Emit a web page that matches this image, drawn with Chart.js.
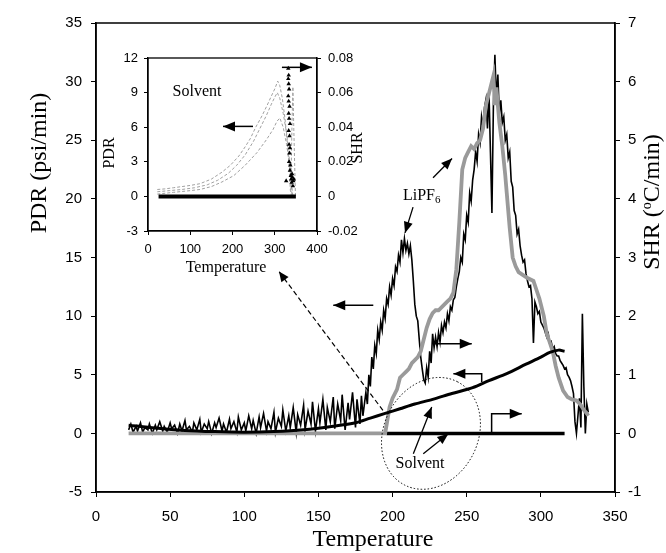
<!DOCTYPE html>
<html>
<head>
<meta charset="utf-8">
<script src="https://cdn.jsdelivr.net/npm/chart.js@4.4.1/dist/chart.umd.min.js"></script>
<style>
  html, body { margin: 0; padding: 0; background: #fff; }
  #wrap { position: relative; width: 666px; height: 553px; }
  #mainChart { position: absolute; left: 0; top: 0; }
  #insetChart { position: absolute; left: 90px; top: 40px; }
</style>
</head>
<body>
<div id="wrap">
  <canvas id="mainChart" width="666" height="553"></canvas>
  <canvas id="insetChart" width="300" height="240"></canvas>
</div>
<script>
// tick labels
const xTicks = [0, 50, 100, 150, 200, 250, 300, 350];
const pdrTicks = [-5, 0, 5, 10, 15, 20, 25, 30, 35];
const shrTicks = [-1, 0, 1, 2, 3, 4, 5, 6, 7];
const insetXTicks = [0, 100, 200, 300, 400];
const insetPdrTicks = [-3, 0, 3, 6, 9, 12];
const insetShrTicks = [-0.02, 0, 0.02, 0.04, 0.06, 0.08];

// LiPF6 pressure rise rate (psi/min) vs temperature
const lipf6Pdr = [
  [22,0.3],[23.5,0.8],[25,0.1],[27,0.6],[28,0.2],[30,0.9],[31.5,0.1],[33,0.5],[35,0.3],[36,0.8],
  [38,0],[40,0.7],[41,0.3],[43,1.0],[45,0.2],[46,0.6],[48,0.1],[50,0.9],[51,0.4],[53,0.7],
  [55,0],[56.5,0.8],[58,0.2],[60,1.1],[61,0.3],[63,0.6],[65,0.1],[66,0.9],[68,0.3],[70,1.2],
  [71,0.1],[73,0.8],[75,0.4],[76,1.0],[78,0],[80,0.9],[81,0.5],[83,1.3],[85,0.2],[86,0.8],
  [88,0.1],[90,1.2],[91,0.4],[93,1.0],[95,0.1],[96,1.4],[98,0.3],[100,0.9],[101,0.2],[103,1.5],
  [105,0.4],[106,1.1],[108,0],[110,1.4],[111,0.5],[113,1.7],[115,0.2],[116,1.0],[118,0.4],[120,1.8],
  [121,0.1],[123,1.3],[125,0.6],[126,2.0],[128,0.2],[130,1.5],[131,0.5],[133,2.2],[135,0.1],[136,1.6],
  [138,0.7],[140,2.4],[141,0.3],[143,1.9],[145,0.8],[146,2.7],[148,0.2],[150,2.1],[151,0.9],[153,2.9],
  [155,0.3],[156,2.2],[158,1.0],[160,3.1],[161,0.4],[163,2.5],[165,1.1],[166,3.3],[168,0.3],[170,2.6],
  [171,1.2],[173,3.5],[175,0.5],[176,2.9],[178,0.8],[179,3.2],[180,1.5],
  [182,3.5],[183,2.5],[184,5],[185,4],[186,6.5],[187,5.5],[188,7.5],[189,6.8],[190,8.8],
  [191,8],[192,9.5],[193,8.8],[194,10.5],[195,9.8],[196,11.5],[197,11],[198,12.5],[199,11.8],[200,13.2],
  [201,12.6],[202,14.2],[203,13.8],[204,15.2],[205,14.6],[206,16.5],[207,15.4],[208,16.6],[209,15.6],[210,16.2],
  [211,15.3],[212,16],[213,14.8],[214,13],[215,11],[216,10],[217,9.6],[218,8],[219,6.5],[220,5.5],
  [221,4.6],[222,4.3],[223,5.6],[224,4.8],[225,7],[226,6],[227,8.5],[228,7.3],[229,8.2],[230,7.4],
  [231,8.6],[232,7.8],[233,9.2],[234,8.6],[235,9.5],[236,9],[237,10.2],[238,9.6],[239,10.8],[240,10.5],
  [241,11.4],[242,11.6],[243,12.5],[244,13.2],[245,13.8],[246,15],[247,14.6],[248,17],[249,16.5],[250,18.6],
  [251,18],[252,20.5],[253,19.8],[254,21.6],[255,22.5],[256,24],[257,23.2],[258,25.5],[259,24.8],[260,27],
  [261,26.2],[262,27.8],[263,28.5],[264,26],[265,29.2],[266,24],[267,18.8],[268,28],[269,32.3],[270,28.5],
  [271,30.6],[272,27.2],[273,28.4],[274,26.5],[275,27],[276,25],[277,25.5],[278,23.5],[279,24],[280,21.5],
  [281,21],[282,19],[283,18.6],[284,17],[285,17.4],[286,16],[287,15.2],[288,14.6],[289,14.8],[290,13.6],
  [291,13],[292,12.5],[293,12.6],[294,11.5],[295,7.7],[296,11.2],[297,10.8],[298,10.2],[299,10.4],[300,9.5],
  [302,9],[303,8.6],[304,8.2],[305,8.5],[306,7.6],[307,7.8],[308,7.2],[309,7.4],[310,6.8],[311,6.6],
  [312,6.6],[313,6.2],[314,6],[315,5.8],[316,5.5],[317,5.6],[318,5],[319,4.8],[320,4.5],[321,4],
  [322,3.4],[323,1],[324,0],[325,1.5],[326,3],[327,0.5],[328,10.2],[329,4],[330,0],[331,2.5],[332,1.8]
];

// LiPF6 self-heating rate (oC/min)
const lipf6Shr = [
  [22,0],[100,0],[195,0],[196,0.15],[198,0.45],[200,0.6],[203,0.75],[205,0.95],[207,1.0],[209,1.05],
  [211,1.1],[213,1.2],[215,1.25],[217,1.3],[219,1.4],[221,1.6],[223,1.8],[225,1.95],[227,2.05],[229,2.1],
  [231,2.1],[233,2.15],[235,2.2],[237,2.25],[239,2.3],[241,2.4],[243,2.8],[245,3.6],[247,4.5],[249,4.7],
  [251,4.8],[253,4.9],[255,4.85],[257,4.95],[259,5.0],[261,5.2],[263,5.6],[265,5.8],[267,6.0],[268,6.1],
  [269,5.6],[270,5.9],[272,5.3],[274,4.9],[276,4.4],[277,4.1],[279,3.5],[281,3.0],[283,2.85],[285,2.75],
  [288,2.7],[291,2.65],[295,2.6],[297,2.45],[299,2.3],[302,2.0],[304,1.7],[306,1.55],[308,1.4],[310,1.15],
  [312,0.95],[315,0.73],[318,0.62],[321,0.58],[324,0.56],[327,0.48],[329,0.4],[331,0.34],[332,0.3]
];

// solvent only
const solventPdr = [
  [22,0.7],[40,0.45],[60,0.25],[80,0.15],[100,0.1],[120,0.15],[140,0.3],[160,0.6],[175,0.9],[185,1.3],
  [195,1.7],[205,2.1],[215,2.5],[227,2.9],[240,3.4],[254,3.9],[265,4.5],[277,5.1],[290,5.9],[300,6.5],
  [306,6.9],[312,7.1],[316,7.0]
];
const solventShr = [[196,0],[316,0]];

// inset: solvent PDR (three dashed traces) and SHR
const insetPdrHi = [
  [22,0.6],[40,0.65],[60,0.75],[80,0.85],[100,0.95],[123,1.1],[150,1.5],[175,2.1],[195,2.7],[215,3.5],
  [230,4.3],[242,5.0],[255,6.0],[270,7.0],[282,7.9],[292,8.7],[301,9.4],[307,10.0],[312,9.6],[318,8.5],
  [325,6.5],[330,4.5],[334,2.5],[337,0.5],[340,0]
];
const insetPdrMid = [
  [22,0.4],[50,0.5],[80,0.6],[110,0.75],[140,1.0],[165,1.4],[190,2.0],[210,2.7],[230,3.6],[250,4.8],
  [265,5.9],[280,7.0],[292,8.0],[300,8.6],[306,9.0],[312,8.5],[320,7.2],[328,5.5],[334,3.5],[338,1.5],[341,0]
];
const insetPdrLo = [
  [22,0.2],[60,0.35],[100,0.5],[123,0.6],[150,0.85],[175,1.25],[203,1.8],[230,2.7],[258,3.8],[280,4.9],
  [296,5.8],[305,6.5],[312,6.8],[320,6.0],[328,4.5],[335,2.8],[340,1.0],[343,0]
];
const insetPdrSpike = [[338,0.5],[341,6.5],[343,9.5],[345,6],[347,3],[349,0]];
const insetShrBase = [[25,0],[350,0]];
const insetShrSpike = [
  [327,0.009],[332,0.074],[333,0.07],[332,0.068],[333,0.065],[334,0.062],[332,0.058],[333,0.055],
  [335,0.052],[333,0.048],[334,0.045],[336,0.042],[333,0.038],[335,0.035],[334,0.03],[336,0.028],
  [335,0.025],[334,0.02],[337,0.018],[336,0.015],[338,0.012],[339,0.01],[340,0.008],[342,0.011],
  [341,0.013],[344,0.009],[345,0.01],[343,0.006]
];

const xy = arr => arr.map(([x, y]) => ({ x, y }));
const setTicks = list => scale => { scale.ticks = list.map(v => ({ value: v })); };

Chart.defaults.font.family = "'Liberation Sans', Arial, sans-serif";
Chart.defaults.color = '#000';

function arrowHead(ctx, from, to, head, half) {
  const [x1, y1] = from, [x2, y2] = to;
  const a = Math.atan2(y2 - y1, x2 - x1), c = Math.cos(a), s = Math.sin(a);
  ctx.beginPath();
  ctx.moveTo(x2, y2);
  ctx.lineTo(x2 - head * c + half * s, y2 - head * s - half * c);
  ctx.lineTo(x2 - head * c - half * s, y2 - head * s + half * c);
  ctx.closePath();
  ctx.fill();
}

function arrow(ctx, pts, head, half) {
  ctx.beginPath();
  ctx.moveTo(pts[0][0], pts[0][1]);
  for (let i = 1; i < pts.length; i++) ctx.lineTo(pts[i][0], pts[i][1]);
  ctx.stroke();
  arrowHead(ctx, pts[pts.length - 2], pts[pts.length - 1], head, half);
}

// annotation spots, in data units (temperature, PDR)
const notes = {
  pdrArrow: [[187, 10.92], [160, 10.92]],
  shrArrow: [[227.5, 7.65], [253.4, 7.65]],
  elbowLeft: [[260.1, 4.38], [260.1, 5.09], [241, 5.09]],
  elbowRight: [[266.8, 0.11], [266.8, 1.68], [287.1, 1.68]],
  solvToPdr: [[214, -1.73], [226.4, 2.24]],
  solvToShr: [[220.7, -1.73], [237.6, -0.03]],
  lipfDown: [[213.8, 19.3], [208.4, 17.1]],
  lipfUp: [[227.3, 21.8], [240.1, 23.45]],
  dashed: [[193.5, 1.96], [123.4, 13.8]],
  ellipse: [225.9, 0],
  solventText: [218.5, -2.56],
  lipfText: [220.5, 20.3]
};

const mainDecor = {
  id: 'mainDecor',
  afterDatasetsDraw(chart) {
    const { ctx, chartArea: a, scales } = chart;
    const P = ([t, v]) => [scales.x.getPixelForValue(t), scales.y.getPixelForValue(v)];
    ctx.save();
    ctx.strokeStyle = '#000';
    ctx.fillStyle = '#000';
    ctx.lineWidth = 1.5;
    ctx.strokeRect(a.left, a.top, a.right - a.left, a.bottom - a.top);

    ['pdrArrow', 'shrArrow', 'elbowLeft', 'elbowRight'].forEach(k => arrow(ctx, notes[k].map(P), 12, 5));
    ctx.lineWidth = 1.3;
    ['solvToPdr', 'solvToShr', 'lipfDown', 'lipfUp'].forEach(k => arrow(ctx, notes[k].map(P), 11, 4.5));

    // dashed pointer from inset
    const d = notes.dashed.map(P);
    ctx.setLineDash([5, 3]);
    ctx.lineWidth = 1.2;
    ctx.beginPath(); ctx.moveTo(d[0][0], d[0][1]); ctx.lineTo(d[1][0], d[1][1]); ctx.stroke();
    ctx.setLineDash([]);
    arrowHead(ctx, d[0], d[1], 10, 4.5);

    // dotted ellipse
    const [ex, ey] = P(notes.ellipse);
    ctx.setLineDash([1.5, 2]);
    ctx.lineWidth = 1;
    ctx.beginPath();
    ctx.ellipse(ex, ey, 58, 47, -1.1, 0, Math.PI * 2);
    ctx.stroke();
    ctx.setLineDash([]);

    ctx.font = "16px 'Liberation Serif', 'Times New Roman', serif";
    ctx.textAlign = 'center';
    ctx.textBaseline = 'middle';
    const [sx, sy] = P(notes.solventText);
    ctx.fillText('Solvent', sx, sy);

    const [lx, ly] = P(notes.lipfText);
    ctx.textAlign = 'left';
    const w1 = ctx.measureText('LiPF').width;
    ctx.fillText('LiPF', lx - 20, ly);
    ctx.font = "11px 'Liberation Serif', 'Times New Roman', serif";
    ctx.fillText('6', lx - 20 + w1, ly + 5);
    ctx.restore();
  },
  afterDraw(chart) {
    const { ctx } = chart;
    ctx.save();
    ctx.fillStyle = '#000';
    ctx.textBaseline = 'middle';
    const big = "24px 'Liberation Serif', 'Times New Roman', serif";
    ctx.font = big;
    ctx.textAlign = 'center';
    ctx.fillText('Temperature', 373, 540);

    ctx.save();
    ctx.translate(40, 163);
    ctx.rotate(-Math.PI / 2);
    ctx.fillText('PDR (psi/min)', 0, 0);
    ctx.restore();

    ctx.save();
    ctx.translate(653, 202);
    ctx.rotate(-Math.PI / 2);
    ctx.textAlign = 'left';
    const small = "14px 'Liberation Serif', 'Times New Roman', serif";
    ctx.font = big; const wa = ctx.measureText('SHR (').width;
    ctx.font = small; const wb = ctx.measureText('o').width;
    ctx.font = big; const wc = ctx.measureText('C/min)').width;
    const x0 = -(wa + wb + wc) / 2;
    ctx.fillText('SHR (', x0, 0);
    ctx.font = small; ctx.fillText('o', x0 + wa, -6);
    ctx.font = big; ctx.fillText('C/min)', x0 + wa + wb, 0);
    ctx.restore();
    ctx.restore();
  }
};

const tickGrid = { drawOnChartArea: false, drawTicks: true, tickLength: 5, color: '#000' };
const border = { display: true, color: '#000', width: 1.5 };

new Chart(document.getElementById('mainChart'), {
  type: 'line',
  data: {
    datasets: [
      { label: 'Solvent PDR', data: xy(solventPdr), yAxisID: 'y', borderColor: '#000', borderWidth: 3, pointRadius: 0, tension: 0.3, order: 1 },
      { label: 'LiPF6 SHR', data: xy(lipf6Shr), yAxisID: 'y2', borderColor: '#9a9a9a', borderWidth: 3.8, pointRadius: 0, order: 2 },
      { label: 'LiPF6 PDR', data: xy(lipf6Pdr), yAxisID: 'y', borderColor: '#000', borderWidth: 1.6, pointRadius: 0, order: 3 },
      { label: 'Solvent SHR', data: xy(solventShr), yAxisID: 'y2', borderColor: '#000', borderWidth: 3.5, pointRadius: 0, order: 4 }
    ]
  },
  options: {
    responsive: false,
    animation: false,
    events: [],
    layout: { padding: { top: 23, left: 0, right: 0, bottom: 0 } },
    plugins: { legend: { display: false }, tooltip: { enabled: false } },
    scales: {
      x: {
        type: 'linear', min: 0, max: 350,
        afterBuildTicks: setTicks(xTicks),
        afterFit: s => { s.height = 61; },
        grid: tickGrid, border,
        ticks: { font: { size: 15 }, padding: 11, maxRotation: 0 }
      },
      y: {
        type: 'linear', position: 'left', min: -5, max: 35,
        afterBuildTicks: setTicks(pdrTicks),
        afterFit: s => { s.width = 96; },
        grid: tickGrid, border,
        ticks: { font: { size: 15 }, padding: 9 }
      },
      y2: {
        type: 'linear', position: 'right', min: -1, max: 7,
        afterBuildTicks: setTicks(shrTicks),
        afterFit: s => { s.width = 51; },
        grid: tickGrid, border,
        ticks: { font: { size: 15 }, padding: 8 }
      }
    }
  },
  plugins: [mainDecor]
});

// inset
const insetNotes = {
  rightArrow: [[317, 11.19], [388, 11.19]],
  leftArrow: [[248.5, 6.07], [177.5, 6.07]],
  solventText: [116, 9.1]
};

const insetDecor = {
  id: 'insetDecor',
  afterDatasetsDraw(chart) {
    const { ctx, chartArea: a, scales } = chart;
    const P = ([t, v]) => [scales.x.getPixelForValue(t), scales.y.getPixelForValue(v)];
    ctx.save();
    ctx.strokeStyle = '#000';
    ctx.fillStyle = '#000';
    ctx.lineWidth = 1.3;
    ctx.strokeRect(a.left, a.top, a.right - a.left, a.bottom - a.top);
    ctx.lineWidth = 1.5;
    arrow(ctx, insetNotes.rightArrow.map(P), 12, 5);
    arrow(ctx, insetNotes.leftArrow.map(P), 12, 5);
    ctx.font = "16px 'Liberation Serif', 'Times New Roman', serif";
    ctx.textAlign = 'center';
    ctx.textBaseline = 'middle';
    const [sx, sy] = P(insetNotes.solventText);
    ctx.fillText('Solvent', sx, sy);

    ctx.fillText('Temperature', 136, 228);
    ctx.save();
    ctx.translate(20, 113);
    ctx.rotate(-Math.PI / 2);
    ctx.fillText('PDR', 0, 0);
    ctx.restore();
    ctx.save();
    ctx.translate(268, 108);
    ctx.rotate(-Math.PI / 2);
    ctx.fillText('SHR', 0, 0);
    ctx.restore();
    ctx.restore();
  }
};

const insetGrid = { drawOnChartArea: false, drawTicks: true, tickLength: 4, color: '#000' };
const insetBorder = { display: true, color: '#000', width: 1.3 };
const dashGray = { borderColor: '#a0a0a0', borderWidth: 1, borderDash: [3, 2], pointRadius: 0, yAxisID: 'y' };

new Chart(document.getElementById('insetChart'), {
  type: 'line',
  data: {
    datasets: [
      { label: 'SHR spike', data: xy(insetShrSpike), yAxisID: 'y2', showLine: false, pointStyle: 'triangle', pointRadius: 2.6, backgroundColor: '#000', borderColor: '#000', borderWidth: 0, order: 1 },
      { label: 'SHR base', data: xy(insetShrBase), yAxisID: 'y2', borderColor: '#000', borderWidth: 4, pointRadius: 0, order: 2 },
      Object.assign({ label: 'PDR hi', data: xy(insetPdrHi), order: 3 }, dashGray),
      Object.assign({ label: 'PDR mid', data: xy(insetPdrMid), order: 4 }, dashGray),
      Object.assign({ label: 'PDR lo', data: xy(insetPdrLo), order: 5 }, dashGray),
      Object.assign({ label: 'PDR spike', data: xy(insetPdrSpike), order: 6 }, dashGray)
    ]
  },
  options: {
    responsive: false,
    animation: false,
    events: [],
    layout: { padding: { top: 18, left: 0, right: 0, bottom: 0 } },
    plugins: { legend: { display: false }, tooltip: { enabled: false } },
    scales: {
      x: {
        type: 'linear', min: 0, max: 400,
        afterBuildTicks: setTicks(insetXTicks),
        afterFit: s => { s.height = 49; },
        grid: insetGrid, border: insetBorder,
        ticks: { font: { size: 13 }, padding: 7, maxRotation: 0 }
      },
      y: {
        type: 'linear', position: 'left', min: -3, max: 12,
        afterBuildTicks: setTicks(insetPdrTicks),
        afterFit: s => { s.width = 58; },
        grid: insetGrid, border: insetBorder,
        ticks: { font: { size: 13 }, padding: 6 }
      },
      y2: {
        type: 'linear', position: 'right', min: -0.02, max: 0.08,
        afterBuildTicks: setTicks(insetShrTicks),
        afterFit: s => { s.width = 73; },
        grid: insetGrid, border: insetBorder,
        ticks: { font: { size: 13 }, padding: 7, callback: v => (v === 0 ? '0' : v.toFixed(2)) }
      }
    }
  },
  plugins: [insetDecor]
});
</script>
</body>
</html>
